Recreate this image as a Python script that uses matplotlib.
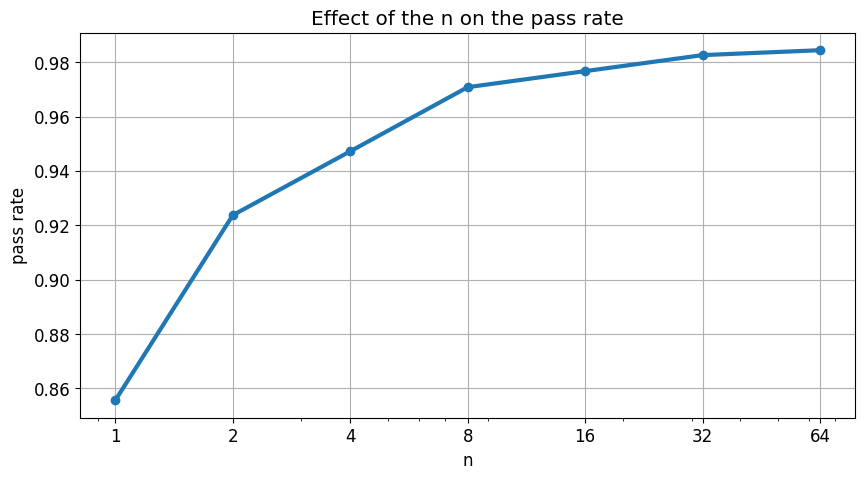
import matplotlib
matplotlib.use("Agg")
import matplotlib.pyplot as plt

n_values = [1, 2, 4, 8, 16, 32, 64]
pass_rate = [0.8556, 0.9237, 0.9472, 0.9708, 0.9767, 0.9826, 0.9844]
tick_labels = [str(v) for v in n_values]

plt.rcParams['font.size'] = 12
fig, ax = plt.subplots(figsize=(10, 5), dpi=100)
ax.plot(n_values, pass_rate, marker='o', linewidth=3, color='#1f77b4')
ax.set_xscale('log')
ax.set_xticks(n_values, labels=tick_labels)
ax.set_xlabel('n')
ax.set_ylabel('pass rate')
ax.set_title('Effect of the n on the pass rate')
ax.grid(True)
fig.savefig('out.png', bbox_inches='tight')
